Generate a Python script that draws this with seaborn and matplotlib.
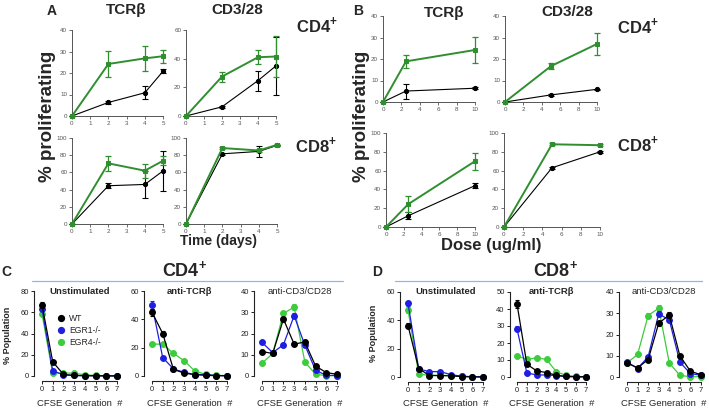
import matplotlib
matplotlib.use("Agg")
import matplotlib.pyplot as plt
import seaborn as sns
import pandas as pd
from matplotlib.lines import Line2D

# ---------------- data ----------------
time_days = [0, 2, 4, 5]
dose_tcr = [0, 2.5, 10]
dose_cd328 = [0, 5, 10]
generations = [0, 1, 2, 3, 4, 5, 6, 7]

# Panel A (time course): black and green series, mean and error
a_tcr_cd4_black = [0, 6.3, 10.8, 20.8]
a_tcr_cd4_black_err = [0, 0.5, 3.0, 1.0]
a_tcr_cd4_green = [0, 24.2, 26.8, 27.8]
a_tcr_cd4_green_err = [0, 6.0, 5.7, 3.0]
a_cd328_cd4_black = [0, 6.4, 24.7, 35.0]
a_cd328_cd4_black_err = [0, 0.5, 7.0, 20.0]
a_cd328_cd4_green = [0, 27.5, 41.0, 41.5]
a_cd328_cd4_green_err = [0, 3.5, 5.0, 14.0]
a_tcr_cd8_black = [0, 44.5, 46.0, 61.7]
a_tcr_cd8_black_err = [0, 3.0, 16.0, 23.0]
a_tcr_cd8_green = [0, 70.5, 62.0, 73.5]
a_tcr_cd8_green_err = [0, 9.0, 8.0, 5.0]
a_cd328_cd8_black = [0, 81.6, 84.4, 91.4]
a_cd328_cd8_black_err = [0, 1.0, 6.0, 1.0]
a_cd328_cd8_green = [0, 88.3, 85.5, 92.0]
a_cd328_cd8_green_err = [0, 1.0, 1.5, 1.5]

# Panel B (dose response)
b_tcr_cd4_black = [0, 5.1, 6.4]
b_tcr_cd4_black_err = [0, 3.5, 0.4]
b_tcr_cd4_green = [0, 18.9, 24.2]
b_tcr_cd4_green_err = [0, 3.0, 6.0]
b_cd328_cd4_black = [0, 3.3, 5.9]
b_cd328_cd4_black_err = [0, 0.3, 0.3]
b_cd328_cd4_green = [0, 16.7, 27.0]
b_cd328_cd4_green_err = [0, 1.5, 5.0]
b_tcr_cd8_black = [0, 12.0, 44.0]
b_tcr_cd8_black_err = [0, 3.5, 3.0]
b_tcr_cd8_green = [0, 24.3, 70.0]
b_tcr_cd8_green_err = [0, 8.5, 9.0]
b_cd328_cd8_black = [0, 63.0, 80.0]
b_cd328_cd8_black_err = [0, 1.0, 1.0]
b_cd328_cd8_green = [0, 88.0, 87.0]
b_cd328_cd8_green_err = [0, 1.0, 1.0]

# Panel C (CD4+, CFSE generations)
c_unstim_wt = [67, 13.4, 1.5, 0.5, 0.3, 0.2, 0.1, 0.1]
c_unstim_wt_err = [3, 1, 0.3, 0.2, 0.1, 0.1, 0.1, 0.1]
c_unstim_egr1 = [63, 5, 1, 0.5, 0.3, 0.2, 0.1, 0.1]
c_unstim_egr1_err = [2, 1, 0.3, 0.2, 0.1, 0.1, 0.1, 0.1]
c_unstim_egr4 = [58.5, 2.5, 3, 2.5, 1.2, 0.5, 0.3, 0.2]
c_unstim_egr4_err = [1, 0.5, 0.3, 0.3, 0.2, 0.1, 0.1, 0.1]
c_tcr_wt = [45, 30, 4.7, 2, 1, 0.5, 0.2, 0.2]
c_tcr_wt_err = [2.5, 1.5, 0.5, 0.3, 0.2, 0.1, 0.1, 0.1]
c_tcr_egr1 = [50, 13, 5, 2.6, 1, 1, 0.3, 0.2]
c_tcr_egr1_err = [3, 1, 0.5, 0.3, 0.2, 0.1, 0.1, 0.1]
c_tcr_egr4 = [22.5, 22.5, 16, 10.8, 3.5, 1.2, 0.5, 0.3]
c_tcr_egr4_err = [0.8, 0.8, 0.8, 0.6, 0.3, 0.2, 0.1, 0.1]
c_cd328_wt = [11.5, 10.6, 26.8, 15, 16, 4.7, 1.6, 0.8]
c_cd328_wt_err = [0.8, 0.8, 1.2, 0.8, 0.8, 0.4, 0.2, 0.1]
c_cd328_egr1 = [15.8, 11, 14.7, 28.4, 14.5, 2.7, 0.3, 0.2]
c_cd328_egr1_err = [0.8, 0.8, 0.8, 1.2, 0.8, 0.3, 0.1, 0.1]
c_cd328_egr4 = [6, 10.6, 29.5, 32.4, 6.6, 0.8, 0.2, 0.2]
c_cd328_egr4_err = [0.6, 0.6, 1.2, 1.5, 0.5, 0.2, 0.1, 0.1]

# Panel D (CD8+, CFSE generations)
d_unstim_wt = [36.3, 6, 1, 1, 0.8, 0.3, 0.1, 0.1]
d_unstim_wt_err = [1.5, 0.5, 0.2, 0.2, 0.1, 0.1, 0.1, 0.1]
d_unstim_egr1 = [52, 5.7, 3.8, 3.8, 1.7, 0.5, 0.2, 0.1]
d_unstim_egr1_err = [2, 0.5, 0.3, 0.3, 0.2, 0.1, 0.1, 0.1]
d_unstim_egr4 = [47.4, 2, 1.2, 1.2, 1, 0.5, 0.2, 0.1]
d_unstim_egr4_err = [2, 0.3, 0.2, 0.2, 0.1, 0.1, 0.1, 0.1]
d_tcr_wt = [43, 7.5, 3.6, 2.6, 1, 0.3, 0.2, 0.1]
d_tcr_wt_err = [2.5, 0.5, 0.3, 0.3, 0.2, 0.1, 0.1, 0.1]
d_tcr_egr1 = [28.3, 2.4, 1.2, 1.2, 0.8, 0.3, 0.1, 0.1]
d_tcr_egr1_err = [1.5, 0.3, 0.2, 0.2, 0.1, 0.1, 0.1, 0.1]
d_tcr_egr4 = [12.5, 10.3, 11.3, 10.3, 3, 1, 0.3, 0.2]
d_tcr_egr4_err = [0.6, 0.6, 0.6, 0.6, 0.3, 0.2, 0.1, 0.1]
d_cd328_wt = [6.6, 4.3, 8.2, 25.3, 29.2, 10, 2.7, 1.1]
d_cd328_wt_err = [0.5, 0.5, 0.6, 1.2, 1.2, 0.6, 0.3, 0.2]
d_cd328_egr1 = [7.1, 4, 9.5, 29.7, 26.9, 7, 1.6, 0.8]
d_cd328_egr1_err = [0.5, 0.5, 0.6, 1.2, 1.2, 0.5, 0.2, 0.1]
d_cd328_egr4 = [6.6, 10.6, 28.9, 32.4, 6.6, 0.8, 0.1, 0.2]
d_cd328_egr4_err = [0.5, 0.6, 1.2, 1.5, 0.5, 0.2, 0.1, 0.1]

genotypes = ["WT", "EGR1-/-", "EGR4-/-"]

# ---------------- styling ----------------
sns.set_theme(style="white")
plt.rcParams["font.family"] = ["Liberation Sans", "DejaVu Sans"]
plt.rcParams["mathtext.fontset"] = "custom"
plt.rcParams["mathtext.bf"] = "Liberation Sans:bold"
plt.rcParams["mathtext.rm"] = "Liberation Sans"

W, H = 709, 409
fig = plt.figure(figsize=(W / 100, H / 100), dpi=100)

GREEN_AB = "#2f8f2f"
GEN_COLORS = {"WT": "#000000", "EGR1-/-": "#1f1fe0", "EGR4-/-": "#3ccc3c"}
GREY = "#555555"
PLUS = r"$^{\mathbf{+}}$"


def px_axes(l, t, r, b):
    return fig.add_axes([l / W, 1 - b / H, (r - l) / W, (b - t) / H])


def ftext(x, y, s, **kw):
    kw.setdefault("ha", "center")
    kw.setdefault("va", "center")
    fig.text(x / W, 1 - y / H, s, **kw)


def prolif_panel(box, x, black, black_err, green, green_err, xmax, ymax, xticks, yticks):
    ax = px_axes(*box)
    sns.lineplot(x=x, y=black, color="black", lw=0.8, marker="o", ms=3,
                 mec="black", ax=ax, clip_on=False, zorder=3)
    ax.errorbar(x, black, yerr=black_err, fmt="none", ecolor="black",
                elinewidth=0.8, capsize=2, capthick=0.8, clip_on=False, zorder=3)
    sns.lineplot(x=x, y=green, color=GREEN_AB, lw=1.4, marker="s", ms=3,
                 mec=GREEN_AB, ax=ax, clip_on=False, zorder=4)
    ax.errorbar(x, green, yerr=green_err, fmt="none", ecolor=GREEN_AB,
                elinewidth=0.9, capsize=2, capthick=0.9, clip_on=False, zorder=4)
    ax.set_xlim(0, xmax)
    ax.set_ylim(0, ymax)
    ax.set_xticks(xticks)
    ax.set_yticks(yticks)
    for s in ["top", "right"]:
        ax.spines[s].set_visible(False)
    for s in ["left", "bottom"]:
        ax.spines[s].set_color(GREY)
        ax.spines[s].set_linewidth(0.7)
    ax.tick_params(axis="both", which="both", direction="out", length=2, width=0.6,
                   color=GREY, labelsize=4.5, labelcolor=GREY, pad=1.5,
                   bottom=True, left=True)
    ax.set_xlabel("")
    ax.set_ylabel("")
    ax.patch.set_alpha(0)
    return ax


# Panel A
prolif_panel((72, 30, 163, 116), time_days, a_tcr_cd4_black, a_tcr_cd4_black_err,
             a_tcr_cd4_green, a_tcr_cd4_green_err, 5, 40, range(6), range(0, 41, 10))
prolif_panel((186, 30, 276, 116), time_days, a_cd328_cd4_black, a_cd328_cd4_black_err,
             a_cd328_cd4_green, a_cd328_cd4_green_err, 5, 60, range(6), range(0, 61, 20))
prolif_panel((72, 138, 163, 224), time_days, a_tcr_cd8_black, a_tcr_cd8_black_err,
             a_tcr_cd8_green, a_tcr_cd8_green_err, 5, 100, range(6), range(0, 101, 20))
prolif_panel((186, 138, 277, 224), time_days, a_cd328_cd8_black, a_cd328_cd8_black_err,
             a_cd328_cd8_green, a_cd328_cd8_green_err, 5, 100, range(6), range(0, 101, 20))

# Panel B
prolif_panel((383, 16, 475, 102), dose_tcr, b_tcr_cd4_black, b_tcr_cd4_black_err,
             b_tcr_cd4_green, b_tcr_cd4_green_err, 10, 40, range(0, 11, 2), range(0, 41, 10))
prolif_panel((505, 16, 597, 102), dose_cd328, b_cd328_cd4_black, b_cd328_cd4_black_err,
             b_cd328_cd4_green, b_cd328_cd4_green_err, 10, 40, range(0, 11, 2), range(0, 41, 10))
prolif_panel((386, 133, 475, 227), dose_tcr, b_tcr_cd8_black, b_tcr_cd8_black_err,
             b_tcr_cd8_green, b_tcr_cd8_green_err, 10, 100, range(0, 11, 2), range(0, 101, 20))
prolif_panel((504, 133, 600, 227), dose_cd328, b_cd328_cd8_black, b_cd328_cd8_black_err,
             b_cd328_cd8_green, b_cd328_cd8_green_err, 10, 100, range(0, 11, 2), range(0, 101, 20))

# Panel A/B texts
ftext(52, 11, "A", fontsize=10, fontweight="bold")
ftext(126, 10, "TCRβ", fontsize=11, fontweight="bold")
ftext(237, 10, "CD3/28", fontsize=11, fontweight="bold")
ftext(317, 25, "CD4" + PLUS, fontsize=12, fontweight="bold")
ftext(316, 145, "CD8" + PLUS, fontsize=12, fontweight="bold")
ftext(48, 116, "% proliferating", fontsize=13.5, fontweight="bold", rotation=90)
ftext(218, 241, "Time (days)", fontsize=10, fontweight="bold")

ftext(358, 11, "B", fontsize=10, fontweight="bold")
ftext(444, 13, "TCRβ", fontsize=11, fontweight="bold")
ftext(567, 12, "CD3/28", fontsize=11, fontweight="bold")
ftext(638, 26, "CD4" + PLUS, fontsize=12, fontweight="bold")
ftext(638, 144, "CD8" + PLUS, fontsize=12, fontweight="bold")
ftext(362, 116, "% proliferating", fontsize=13.5, fontweight="bold", rotation=90)
ftext(491, 245, "Dose (ug/ml)", fontsize=12, fontweight="bold")


def cfse_panel(x0, x7, ytop, y0, ymax, ystep, series, title, title_bold, legend=False):
    dx = (x7 - x0) / 7.0
    l = x0 - 0.75 * dx
    r = x7 + 0.6 * dx
    upp = (y0 - ytop) / ymax
    b = y0 + 5
    ax = px_axes(l, ytop, r, b)
    for name, vals, errs in series:
        col = GEN_COLORS[name]
        sns.lineplot(x=generations, y=vals, color=col, lw=0.9, marker="o", ms=4.2,
                     mec=col, ax=ax, clip_on=False, legend=False)
        ax.errorbar(generations, vals, yerr=errs, fmt="none", ecolor=col,
                    elinewidth=0.8, capsize=1.5, capthick=0.8, clip_on=False)
    ax.set_xlim(-0.75, 7.6)
    ax.set_ylim(-5 / upp, ymax)
    ax.set_xticks(generations)
    ax.set_yticks(range(0, ymax + 1, ystep))
    for s in ["top", "right"]:
        ax.spines[s].set_visible(False)
    ax.spines["left"].set_bounds(0, ymax)
    ax.spines["bottom"].set_bounds(0, 7)
    for s in ["left", "bottom"]:
        ax.spines[s].set_color("#222222")
        ax.spines[s].set_linewidth(0.8)
    ax.tick_params(axis="both", direction="out", length=2, width=0.7, color="#222222",
                   labelsize=5.5, labelcolor="#222222", pad=1.5, bottom=True, left=True)
    ax.set_xlabel("")
    ax.set_ylabel("")
    ax.patch.set_alpha(0)
    ftext((x0 + x7) / 2, ytop, title, fontsize=6.8,
          fontweight="bold" if title_bold else "normal")
    ftext((x0 + x7) / 2, y0 + 27, "CFSE Generation  #", fontsize=6.8)
    if legend:
        handles = [Line2D([], [], ls="", marker="o", ms=4.2, color=GEN_COLORS[g])
                   for g in genotypes]
        fig.legend(handles, genotypes, loc="upper left",
                   bbox_to_anchor=(58 / W, 1 - 314 / H), frameon=False,
                   fontsize=6.2, handlelength=0.8, handletextpad=0.5,
                   labelspacing=0.35, borderpad=0, borderaxespad=0)
    return ax


# Panel C
cfse_panel(42, 117, 291, 376, 80, 20,
           [("EGR4-/-", c_unstim_egr4, c_unstim_egr4_err),
            ("EGR1-/-", c_unstim_egr1, c_unstim_egr1_err),
            ("WT", c_unstim_wt, c_unstim_wt_err)], "Unstimulated", True, legend=True)
cfse_panel(152, 227, 291, 376, 60, 20,
           [("EGR4-/-", c_tcr_egr4, c_tcr_egr4_err),
            ("EGR1-/-", c_tcr_egr1, c_tcr_egr1_err),
            ("WT", c_tcr_wt, c_tcr_wt_err)], "anti-TCRβ", True)
cfse_panel(262, 337, 291, 376, 40, 10,
           [("EGR4-/-", c_cd328_egr4, c_cd328_egr4_err),
            ("EGR1-/-", c_cd328_egr1, c_cd328_egr1_err),
            ("WT", c_cd328_wt, c_cd328_wt_err)], "anti-CD3/CD28", False)

# Panel D
cfse_panel(408, 483, 292, 377, 60, 20,
           [("EGR4-/-", d_unstim_egr4, d_unstim_egr4_err),
            ("EGR1-/-", d_unstim_egr1, d_unstim_egr1_err),
            ("WT", d_unstim_wt, d_unstim_wt_err)], "Unstimulated", True)
cfse_panel(517, 586, 292, 377, 50, 10,
           [("EGR4-/-", d_tcr_egr4, d_tcr_egr4_err),
            ("EGR1-/-", d_tcr_egr1, d_tcr_egr1_err),
            ("WT", d_tcr_wt, d_tcr_wt_err)], "anti-TCRβ", True)
cfse_panel(627, 701, 292, 377, 40, 10,
           [("EGR4-/-", d_cd328_egr4, d_cd328_egr4_err),
            ("EGR1-/-", d_cd328_egr1, d_cd328_egr1_err),
            ("WT", d_cd328_wt, d_cd328_wt_err)], "anti-CD3/CD28", False)

# C/D headers
ftext(6, 272, "C", fontsize=10, fontweight="bold")
ftext(185, 270, "CD4" + PLUS, fontsize=13, fontweight="bold")
ftext(377, 272, "D", fontsize=10, fontweight="bold")
ftext(556, 270, "CD8" + PLUS, fontsize=13, fontweight="bold")
fig.add_artist(Line2D([32 / W, 343 / W], [1 - 281 / H] * 2, color="#8fb8e6", lw=0.9))
fig.add_artist(Line2D([395 / W, 702 / W], [1 - 281 / H] * 2, color="#8fb8e6", lw=0.9))
ftext(8, 335, "% Population", fontsize=6.5, fontweight="bold", rotation=90)
ftext(374, 333, "% Population", fontsize=6.5, fontweight="bold", rotation=90)

fig.savefig("out.png", dpi=100)
